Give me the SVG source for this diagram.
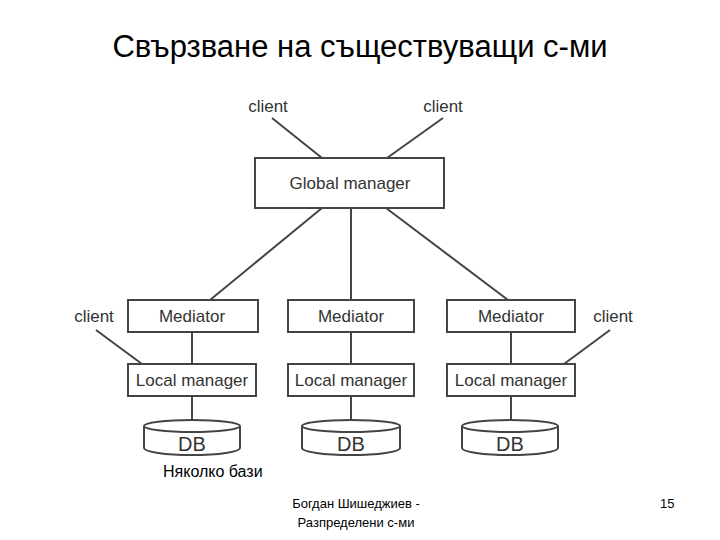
<svg xmlns="http://www.w3.org/2000/svg" width="720" height="540" viewBox="0 0 720 540">
<style>
.b{fill:#fff;stroke:#444;stroke-width:2}
.t{font-family:"Liberation Sans",Arial,sans-serif;fill:#333;text-anchor:middle}
.d{font-size:17px}
.c{stroke:#444;stroke-width:2;fill:none}
</style>
<rect width="720" height="540" fill="#fff"/>
<text class="t" x="360" y="57" font-size="31" style="fill:#000">Свързване на съществуващи с-ми</text>
<g id="connectors">
<line class="c" x1="272" y1="118" x2="322" y2="158"/>
<line class="c" x1="443" y1="118" x2="387" y2="158"/>
<line class="c" x1="322" y1="208" x2="210" y2="300"/>
<line class="c" x1="351" y1="208" x2="351" y2="300"/>
<line class="c" x1="386" y1="208" x2="508" y2="300"/>
<line class="c" x1="96" y1="330" x2="142" y2="364"/>
<line class="c" x1="610" y1="330" x2="564" y2="364"/>
<line class="c" x1="192" y1="332" x2="192" y2="364"/>
<line class="c" x1="351" y1="332" x2="351" y2="364"/>
<line class="c" x1="511" y1="332" x2="511" y2="364"/>
<line class="c" x1="192" y1="396" x2="192" y2="422"/>
<line class="c" x1="351" y1="396" x2="351" y2="422"/>
<line class="c" x1="511" y1="396" x2="511" y2="422"/>
</g>
<g id="client1"><text class="t d" x="268" y="112">client</text></g>
<g id="client2"><text class="t d" x="443" y="112">client</text></g>
<g id="client3"><text class="t d" x="94" y="322">client</text></g>
<g id="client4"><text class="t d" x="613" y="322">client</text></g>
<g id="global"><rect class="b" x="255" y="158" width="189" height="50"/><text class="t d" x="350" y="189">Global manager</text></g>
<g id="med1"><rect class="b" x="128" y="300" width="130" height="32"/><text class="t d" x="192" y="322">Mediator</text></g>
<g id="med2"><rect class="b" x="288" y="300" width="126" height="32"/><text class="t d" x="351" y="322">Mediator</text></g>
<g id="med3"><rect class="b" x="447" y="300" width="128" height="32"/><text class="t d" x="511" y="322">Mediator</text></g>
<g id="lm1"><rect class="b" x="128" y="364" width="128" height="32"/><text class="t d" x="192" y="386">Local manager</text></g>
<g id="lm2"><rect class="b" x="288" y="364" width="126" height="32"/><text class="t d" x="351" y="386">Local manager</text></g>
<g id="lm3"><rect class="b" x="447" y="364" width="128" height="32"/><text class="t d" x="511" y="386">Local manager</text></g>
<g id="db1"><path class="b" d="M144 426 v22 a48 7 0 0 0 96 0 v-22"/><ellipse class="b" cx="192" cy="426" rx="48" ry="6"/><text class="t" x="192" y="451" font-size="20">DB</text></g>
<g id="db2"><path class="b" d="M302 426 v22 a49 7 0 0 0 98 0 v-22"/><ellipse class="b" cx="351" cy="426" rx="49" ry="6"/><text class="t" x="351" y="451" font-size="20">DB</text></g>
<g id="db3"><path class="b" d="M462 426 v22 a48 7 0 0 0 96 0 v-22"/><ellipse class="b" cx="510" cy="426" rx="48" ry="6"/><text class="t" x="510" y="451" font-size="20">DB</text></g>
<text x="163" y="477" font-family="Liberation Sans,Arial,sans-serif" font-size="16" fill="#000">Няколко бази</text>
<text class="t" x="356" y="508" font-size="13" style="fill:#000">Богдан Шишеджиев -</text>
<text class="t" x="356" y="527" font-size="13" style="fill:#000">Разпределени с-ми</text>
<text x="660" y="508" font-family="Liberation Sans,Arial,sans-serif" font-size="13" fill="#000">15</text>
</svg>
